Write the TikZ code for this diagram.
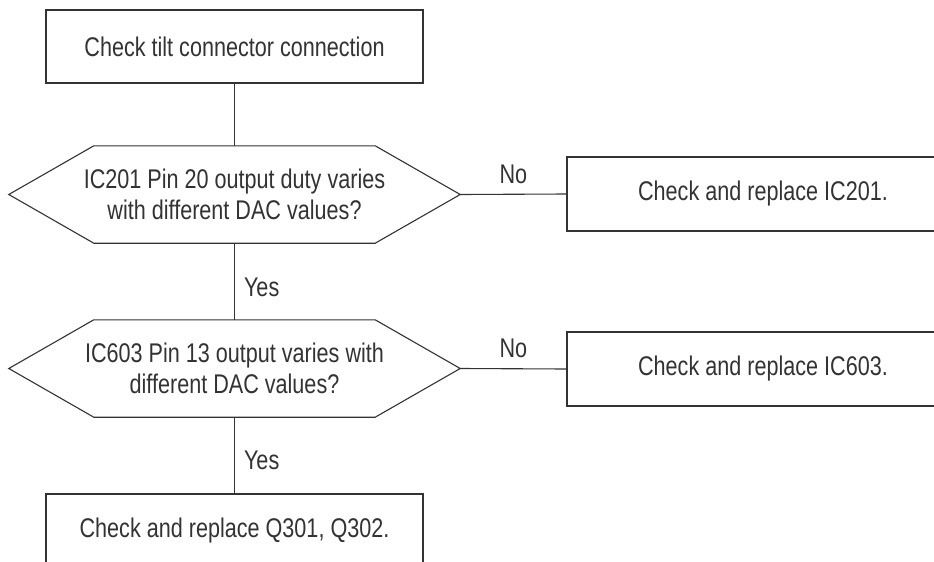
\documentclass[tikz,border=0pt]{standalone}
\usepackage{fontspec}
\newfontfamily\diafont{Liberation Sans}[FakeStretch=0.8]
\usetikzlibrary{calc}
\definecolor{ink}{HTML}{333333}
\begin{document}
\begin{tikzpicture}[x=1pt,y=-1pt,
  every node/.style={font=\diafont\fontsize{27}{31}\selectfont, text=ink, align=center, inner sep=0pt},
  box/.style={draw=ink, line width=1.1pt, minimum width=377pt, minimum height=73pt},
  sidebox/.style={draw=ink, line width=1.1pt, minimum width=392pt, minimum height=74pt},
  hexnode/.style={minimum width=451pt, minimum height=97pt},
  link/.style={draw=ink, line width=1.1pt},
  hexline/.style={draw=ink, line width=1.1pt, line join=miter}]
\clip (0,0) rectangle (934,562);
\fill[white] (0,0) rectangle (934,562);

\node[box] (start) at (234.5,46.5) {Check tilt connector connection};
\node[hexnode] (d1) at (234.5,194.5) {IC201 Pin 20 output duty varies\\with different DAC values?};
\node[sidebox] (r1) at (763,194) {Check and replace IC201.};
\node[hexnode] (d2) at (234.5,368.5) {IC603 Pin 13 output varies with\\different DAC values?};
\node[sidebox] (r2) at (763,369) {Check and replace IC603.};
\node[box] (end) at (234.5,530.5) {Check and replace Q301, Q302.};

\foreach \h in {d1,d2}{
  \draw[hexline] (\h.west) -- ($(\h.north west)+(85,0)$) -- ($(\h.north east)+(-85,0)$)
    -- (\h.east) -- ($(\h.south east)+(-85,0)$) -- ($(\h.south west)+(85,0)$) -- cycle;
}

\draw[link] (start) -- (d1);
\draw[link] (d1.east) -- (r1.west) node[midway, above=10pt] {No};
\draw[link] (d1) -- (d2) node[pos=0.58, right=9pt] {Yes};
\draw[link] (d2.east) -- (r2.west) node[midway, above=10pt] {No};
\draw[link] (d2) -- (end) node[pos=0.56, right=9pt] {Yes};
\end{tikzpicture}
\end{document}
